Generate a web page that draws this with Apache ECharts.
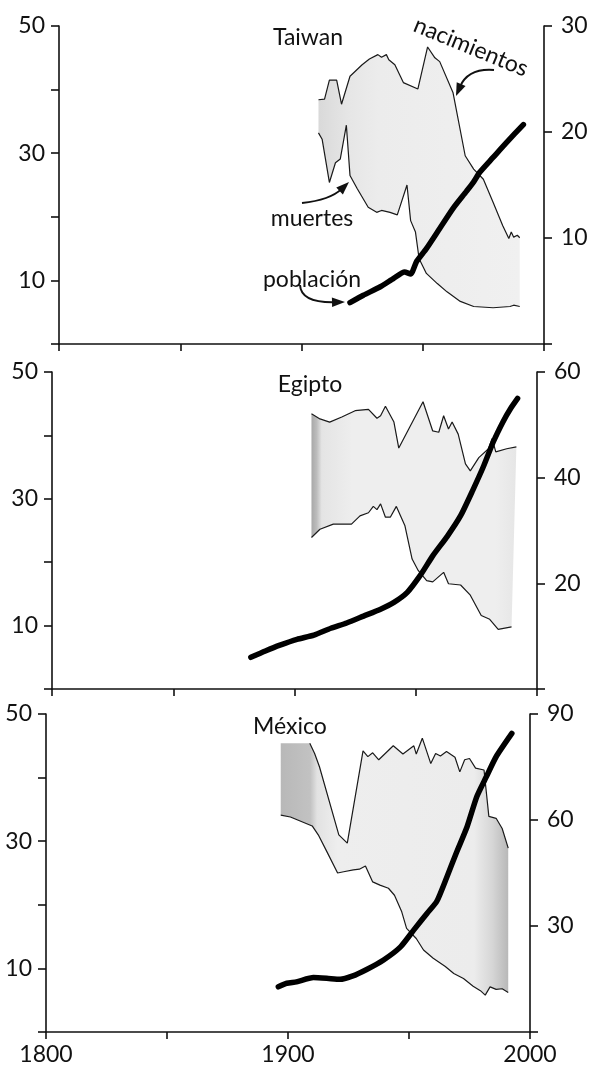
<!DOCTYPE html>
<html><head><meta charset="utf-8">
<script src="https://cdn.jsdelivr.net/npm/echarts@6/dist/echarts.min.js"></script>
<style>html,body{margin:0;padding:0;background:#fff}#c{width:594px;height:1068px}</style>
</head><body><div id="c"></div>
<script>
// ---------- data ----------
const countries = ['Taiwan', 'Egipto', 'México'];
const xTickLabels = [1800, 1900, 2000];
const leftTickLabels = [10, 30, 50];
const rightMax = [30, 60, 90];

// Taiwan
const twBirthYears = [1907, 1909.5, 1911.5, 1914.5, 1916.5, 1920, 1925, 1928, 1931.5, 1933, 1935, 1936, 1938.5, 1942, 1948, 1952, 1955, 1957, 1962.5, 1967.5, 1971, 1975, 1979, 1983, 1985.5, 1986.5, 1987.5, 1989, 1990];
const twBirths = [38.4, 38.5, 41.5, 41.5, 37.7, 42.1, 43.9, 44.8, 45.5, 45.1, 45.5, 44.7, 43.9, 41.1, 40.1, 46.7, 45.0, 44.4, 39.5, 29.6, 27.5, 25.9, 22.3, 18.6, 16.6, 17.6, 16.8, 17.1, 16.7];
const twDeathYears = [1907, 1908.5, 1911.5, 1914, 1916, 1918.5, 1920, 1923, 1927.5, 1931, 1933, 1936.5, 1939.5, 1943.5, 1945, 1947, 1948.5, 1951.5, 1956, 1960, 1965.5, 1971, 1979, 1986, 1987.5, 1990];
const twDeaths = [33.2, 32.2, 25.4, 28.5, 29.1, 34.4, 26.5, 24.4, 21.5, 20.7, 21.0, 20.7, 20.3, 25.0, 19.4, 17.6, 13.4, 11.1, 9.5, 8.2, 6.7, 5.9, 5.7, 5.9, 6.1, 5.9];
const twPopYears = [1920, 1925.5, 1932.5, 1938, 1942.5, 1945, 1947.5, 1951.5, 1957, 1962.5, 1968, 1971, 1973.5, 1979, 1984.5, 1991.5];
const twPop = [3.9, 4.6, 5.4, 6.2, 6.8, 6.6, 7.8, 9.0, 10.9, 12.8, 14.4, 15.3, 16.2, 17.6, 19.0, 20.7];

// Egipto
const egBirthYears = [1907, 1910.5, 1914.5, 1919.5, 1925, 1930.5, 1934, 1935.5, 1937.5, 1941, 1943, 1953, 1957, 1959.5, 1961.5, 1963.5, 1965, 1967.5, 1970.5, 1972.5, 1976, 1980, 1981.5, 1983, 1987.5, 1991.5];
const egBirths = [43.4, 42.6, 42.1, 42.9, 43.9, 44.1, 42.7, 43.1, 44.6, 42.1, 38.0, 45.3, 40.7, 40.5, 43.1, 41.0, 42.1, 40.2, 35.5, 34.4, 36.5, 37.9, 39.5, 37.4, 37.9, 38.2];
const egDeathYears = [1907, 1910.5, 1916, 1923.5, 1927, 1930.5, 1932.5, 1934, 1935.5, 1937.5, 1939.5, 1942, 1945.5, 1948.5, 1951, 1954.5, 1957, 1961.5, 1963.5, 1968.5, 1972.5, 1977, 1980.5, 1984, 1989.5];
const egDeaths = [23.9, 25.2, 26.0, 26.0, 27.3, 27.8, 28.8, 28.3, 29.2, 27.1, 27.1, 28.8, 25.8, 20.5, 18.7, 17.1, 16.9, 18.4, 16.6, 16.4, 14.8, 11.6, 11.0, 9.4, 9.8];
const egPopYears = [1882, 1888, 1894, 1901, 1908, 1915, 1921.5, 1928.5, 1935.5, 1941, 1946.5, 1952, 1957, 1963, 1968.5, 1973.5, 1978, 1982, 1986, 1989, 1992];
const egPop = [6.0, 7.2, 8.3, 9.4, 10.2, 11.5, 12.5, 13.8, 15.1, 16.4, 18.3, 21.6, 25.2, 28.9, 32.8, 37.6, 42.2, 46.8, 50.6, 53.0, 55.0];

// México
const mxBirthYears = [1897, 1909, 1911, 1913, 1921, 1924.5, 1931, 1933, 1935, 1937.5, 1943.5, 1947.5, 1952, 1953, 1955.5, 1959, 1961, 1963, 1965.5, 1969, 1971, 1973, 1975, 1977.5, 1981, 1983, 1986, 1988.5, 1991];
const mxBirths = [45.4, 45.4, 43.8, 41.7, 31.0, 29.7, 44.2, 43.3, 43.9, 42.8, 45.0, 43.7, 45.0, 43.7, 46.2, 42.2, 43.8, 43.4, 44.1, 43.2, 40.9, 42.8, 43.0, 41.5, 41.2, 33.9, 33.6, 32.0, 28.9];
const mxDeathYears = [1897, 1901, 1905.5, 1910, 1912.5, 1916, 1920.5, 1923, 1927, 1929.5, 1932, 1935, 1938, 1941.5, 1944, 1947, 1949, 1953, 1956, 1960, 1965, 1968.5, 1972.5, 1976.5, 1979.5, 1981.5, 1983.5, 1986, 1988.5, 1991];
const mxDeaths = [34.1, 33.8, 33.1, 32.4, 31.0, 28.4, 25.0, 25.2, 25.5, 25.6, 26.1, 23.6, 23.1, 22.6, 21.5, 18.9, 16.3, 14.7, 12.9, 11.6, 10.3, 9.2, 8.4, 7.2, 6.5, 5.8, 7.1, 6.7, 6.8, 6.2];
const mxPopYears = [1896, 1899.5, 1903.5, 1910.5, 1916, 1921.5, 1926.5, 1932.5, 1939.5, 1946.5, 1952, 1957.5, 1961.5, 1965.5, 1969.5, 1974, 1978, 1982, 1986, 1992.5];
const mxPop = [12.8, 13.8, 14.2, 15.4, 15.2, 14.9, 15.8, 17.7, 20.4, 24.1, 28.9, 33.6, 37.0, 43.6, 50.6, 58.1, 66.6, 72.3, 77.9, 84.5];

// ---------- build ----------
const zip = (a, b) => a.map((v, i) => [v, b[i]]);
const panels = [
  { b: zip(twBirthYears, twBirths), d: zip(twDeathYears, twDeaths), p: zip(twPopYears, twPop), lineStart: 0,
    shade: [[0, '#d9d9d9'], [0.15, '#e6e6e6'], [0.3, '#ececec'], [1, '#f0f0f0']] },
  { b: zip(egBirthYears, egBirths), d: zip(egDeathYears, egDeaths), p: zip(egPopYears, egPop), lineStart: 0,
    shade: [[0, '#a8a8a8'], [0.025, '#bcbcbc'], [0.05, '#e4e4e4'], [0.2, '#eeeeee'], [0.9, '#eeeeee'], [1, '#e6e6e6']] },
  { b: zip(mxBirthYears, mxBirths), d: zip(mxDeathYears, mxDeaths), p: zip(mxPopYears, mxPop), lineStart: 1,
    shade: [[0, '#b8b8b8'], [0.13, '#c2c2c2'], [0.16, '#e2e2e2'], [0.25, '#eeeeee'], [0.85, '#ececec'], [0.93, '#d6d6d6'], [1, '#b8b8b8']] }
];

const FONT = 'Lato';
const INK = '#111';
const grids = [
  { left: 59, right: 50, top: 26, height: 318 },
  { left: 52, right: 57, top: 372, height: 317 },
  { left: 46, right: 64, top: 714, height: 318 }
];
const axisLine = { show: true, lineStyle: { color: INK, width: 1.6 } };

const xAxis = grids.map((g, i) => ({
  type: 'value', gridIndex: i, min: 1800, max: 2000, interval: 50,
  axisLine: axisLine,
  axisTick: { show: true, inside: false, length: 7, lineStyle: { color: INK, width: 1.6 } },
  axisLabel: { show: i === 2, margin: 11, fontSize: 23, fontFamily: FONT, color: INK,
    showMinLabel: true, showMaxLabel: true,
    formatter: v => xTickLabels.includes(v) ? String(v) : '' },
  splitLine: { show: false }
}));

const yAxis = [];
grids.forEach((g, i) => {
  yAxis.push({
    type: 'value', gridIndex: i, position: 'left', min: 0, max: 50, interval: 10,
    axisLine: axisLine,
    axisTick: { show: true, inside: false, length: 8, lineStyle: { color: INK, width: 1.6 } },
    axisLabel: { margin: 14, fontSize: 23, fontFamily: FONT, color: INK, showMaxLabel: true,
      formatter: v => leftTickLabels.includes(v) ? String(v) : '' },
    splitLine: { show: false }
  });
  yAxis.push({
    type: 'value', gridIndex: i, position: 'right', min: 0, max: rightMax[i], interval: rightMax[i] / 3,
    axisLine: axisLine,
    axisTick: { show: true, inside: false, length: 8, lineStyle: { color: INK, width: 1.6 } },
    axisLabel: { margin: 17, fontSize: 23, fontFamily: FONT, color: INK, showMaxLabel: true,
      formatter: v => v === 0 ? '' : String(v) },
    splitLine: { show: false }
  });
});

const series = [];
panels.forEach((P, i) => {
  const grad = new echarts.graphic.LinearGradient(0, 0, 1, 0,
    P.shade.map(s => ({ offset: s[0], color: s[1] })));
  series.push({
    type: 'custom', xAxisIndex: i, yAxisIndex: 2 * i, silent: true, z: 1,
    data: [[1900, 25]],
    renderItem: (params, api) => {
      const top = P.b.map(p => api.coord(p));
      const bot = P.d.map(p => api.coord(p)).reverse();
      return { type: 'polygon', shape: { points: top.concat(bot) }, style: { fill: grad, stroke: null } };
    }
  });
  const thin = { color: '#1a1a1a', width: 1.2 };
  series.push({ type: 'line', xAxisIndex: i, yAxisIndex: 2 * i, data: P.b.slice(P.lineStart),
    symbol: 'none', lineStyle: thin, silent: true, z: 3 });
  series.push({ type: 'line', xAxisIndex: i, yAxisIndex: 2 * i, data: P.d,
    symbol: 'none', lineStyle: thin, silent: true, z: 3 });
  series.push({ type: 'line', xAxisIndex: i, yAxisIndex: 2 * i + 1, data: P.p, smooth: 0.2,
    symbol: 'none', lineStyle: { color: '#000', width: 5.5, cap: 'round', join: 'round' }, silent: true, z: 4 });
});

// ---------- annotations ----------
function arrow(x0, y0, cx, cy, x1, y1) {
  const ang = Math.atan2(y1 - cy, x1 - cx);
  const L = 13, W = 4.8;
  const bx = x1 - L * Math.cos(ang), by = y1 - L * Math.sin(ang);
  const px = -Math.sin(ang), py = Math.cos(ang);
  const ex = x1 - (L - 3) * Math.cos(ang), ey = y1 - (L - 3) * Math.sin(ang);
  return [
    { type: 'bezierCurve', z: 50, shape: { x1: x0, y1: y0, cpx1: cx, cpy1: cy, x2: ex, y2: ey },
      style: { stroke: INK, lineWidth: 2, fill: null } },
    { type: 'polygon', z: 50, shape: { points: [[x1, y1], [bx + W * px, by + W * py], [bx - W * px, by - W * py]] },
      style: { fill: INK } }
  ];
}
const txt = (s, x, y, size, rot) => ({
  type: 'text', z: 50, x: x, y: y, rotation: rot || 0,
  style: { text: s, fontSize: size, fontFamily: FONT, fill: INK, align: 'center', verticalAlign: 'middle' }
});

const graphic = [
  txt(countries[0], 308, 38, 23),
  txt(countries[1], 310, 385, 23),
  txt(countries[2], 290, 727, 23),
  txt('nacimientos', 471, 47, 23, -0.39),
  txt('muertes', 312, 219, 23),
  txt('población', 312, 280, 23),
  ...arrow(494, 70, 468, 68, 456, 96),
  ...arrow(302, 203, 330, 200, 349, 182),
  ...arrow(300, 285, 301, 303, 345, 302)
];

const chart = echarts.init(document.getElementById('c'), null, { renderer: 'canvas' });
chart.setOption({
  backgroundColor: '#fff', animation: false,
  grid: grids, xAxis: xAxis, yAxis: yAxis, series: series, graphic: graphic
});
</script></body></html>
